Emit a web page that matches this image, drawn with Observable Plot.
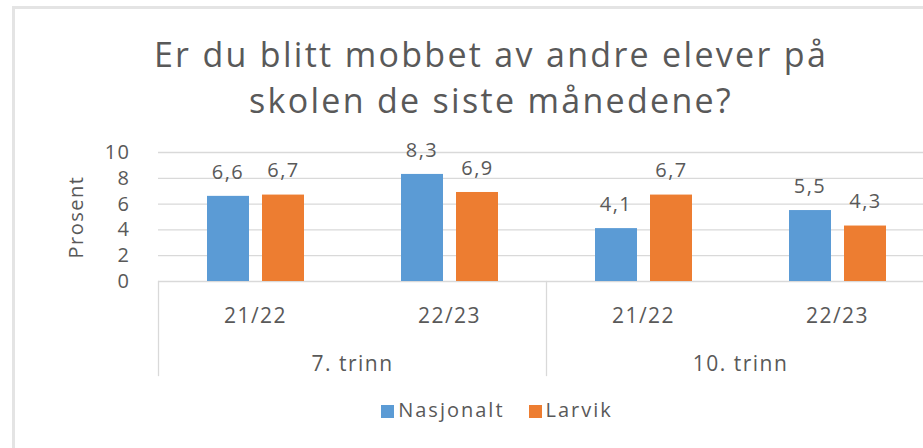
<!DOCTYPE html>
<html><head><meta charset="utf-8">
<script src="https://cdn.jsdelivr.net/npm/d3@7"></script>
<script src="https://cdn.jsdelivr.net/npm/@observablehq/plot@0.6"></script>
<style>
html,body{margin:0;padding:0;background:#fff;}
#wrap{position:relative;width:923px;height:448px;overflow:hidden;font-family:"Open Sans",sans-serif;color:#595959;}
#border{position:absolute;left:12px;top:6px;width:1200px;height:1200px;border-left:3px solid #e4e4e4;border-top:3px solid #e4e4e4;}
#title{position:absolute;top:31px;left:0;width:982px;text-align:center;font-size:34px;line-height:46px;letter-spacing:2.3px;}
#chart{position:absolute;left:0;top:128px;}
#chart svg{max-width:none !important;}
#legend{position:absolute;top:396px;left:0;width:994px;text-align:center;font-size:20px;letter-spacing:2px;line-height:28px;}
#legend span.sw{display:inline-block;width:13px;height:13px;margin-right:4px;vertical-align:-1px;}
#legend span.item{margin:0 12px;}
</style></head>
<body>
<div id="wrap">
  <div id="border"></div>
  <div id="title">Er du blitt mobbet av andre elever på<br>skolen de siste månedene?</div>
  <div id="chart"></div>
  <div id="legend"></div>
</div>
<script>
const trinn = ["7. trinn", "7. trinn", "10. trinn", "10. trinn"];
const years = ["21/22", "22/23", "21/22", "22/23"];
const nasjonalt = [6.6, 8.3, 4.1, 5.5];
const larvik = [6.7, 6.9, 6.7, 4.3];
const series = ["Nasjonalt", "Larvik"];
const colors = ["#5B9BD5", "#ED7D31"];
const yTicks = [0, 2, 4, 6, 8, 10];

const rows = [];
trinn.forEach((t, i) => {
  rows.push({trinn: t, year: years[i], series: series[0], value: nasjonalt[i]});
  rows.push({trinn: t, year: years[i], series: series[1], value: larvik[i]});
});
const fmt = v => v.toFixed(1).replace(".", ",");
const textStyle = {fontFamily: "Open Sans", fill: "#595959"};

const chart = Plot.plot({
  width: 934,
  height: 260,
  marginTop: 24,
  marginBottom: 107,
  marginLeft: 158,
  marginRight: 0,
  style: {fontFamily: "Open Sans", color: "#595959", background: "transparent", overflow: "visible", maxWidth: "none"},
  fx: {domain: ["7. trinn", "10. trinn"], padding: 0, axis: null},
  x: {domain: ["21/22", "22/23"], padding: 0, axis: null},
  y: {domain: [0, 10], axis: null},
  color: {domain: series, range: colors},
  marks: [
    Plot.ruleY(yTicks, {stroke: "#d9d9d9", strokeWidth: 1.3}),
    Plot.frame({anchor: "left", stroke: "#d9d9d9", strokeWidth: 1.3, insetTop: 129, insetBottom: -94}),
    Plot.barY(rows.filter(d => d.series === series[0]), {fx: "trinn", x: "year", y: "value", fill: "series", insetLeft: 49, insetRight: 103}),
    Plot.barY(rows.filter(d => d.series === series[1]), {fx: "trinn", x: "year", y: "value", fill: "series", insetLeft: 104, insetRight: 48}),
    Plot.text(rows.filter(d => d.series === series[0]), {fx: "trinn", x: "year", y: "value", text: d => fmt(d.value), dx: -27.5, dy: -24, lineAnchor: "middle", fontSize: 20, ...textStyle}),
    Plot.text(rows.filter(d => d.series === series[1]), {fx: "trinn", x: "year", y: "value", text: d => fmt(d.value), dx: 28, dy: -24, lineAnchor: "middle", fontSize: 20, ...textStyle}),
    Plot.axisY({ticks: yTicks, tickSize: 0, tickPadding: 28, fontSize: 20, label: "Prosent", labelAnchor: "center", labelArrow: "none", labelOffset: 90}),
    Plot.axisX({tickSize: 0, tickPadding: 27, fontSize: 21, label: null}),
    Plot.axisFx({anchor: "bottom", tickSize: 0, tickPadding: 75, fontSize: 21, label: null})
  ]
});
d3.select(chart).selectAll("text").style("letter-spacing", "1.5px");
document.getElementById("chart").appendChild(chart);

const legend = document.getElementById("legend");
series.forEach((s, i) => {
  const item = document.createElement("span");
  item.className = "item";
  item.innerHTML = `<span class="sw" style="background:${colors[i]}"></span>${s}`;
  legend.appendChild(item);
});
</script>
</body></html>
